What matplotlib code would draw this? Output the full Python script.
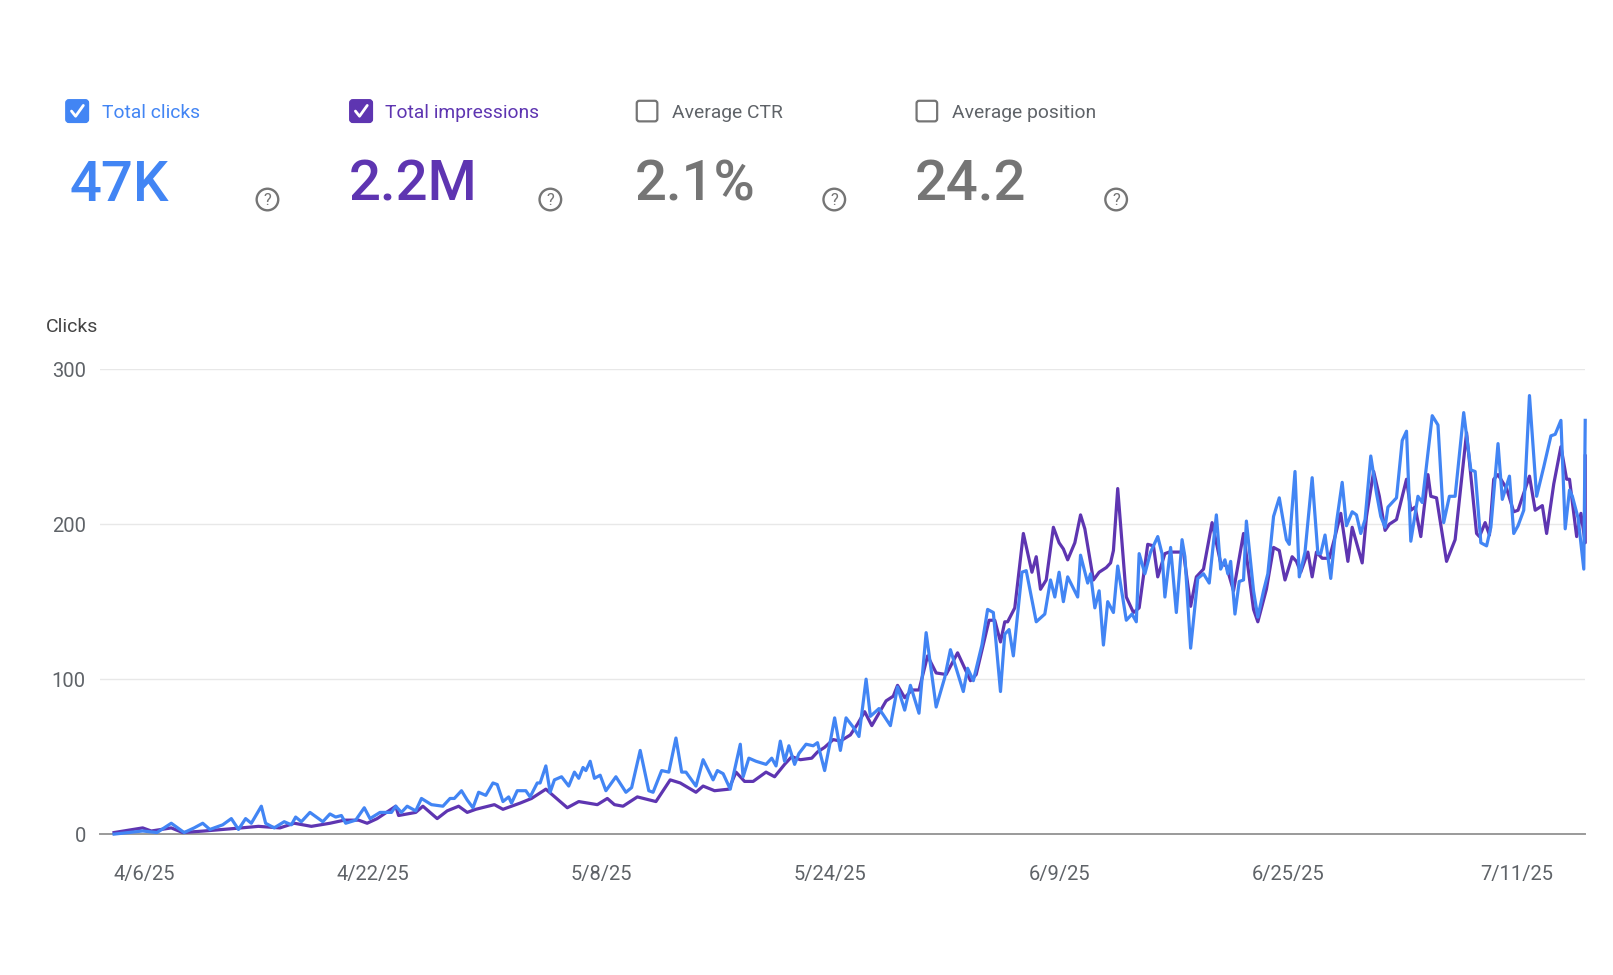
import matplotlib
matplotlib.use("Agg")
import matplotlib.pyplot as plt
import pandas as pd
from matplotlib.patches import FancyBboxPatch, Circle

# ---------------- data ----------------
base_date = "2025-04-06"
tick_labels = ["4/6/25", "4/22/25", "5/8/25", "5/24/25", "6/9/25", "6/25/25", "7/11/25"]
y_ticks = [0, 100, 200, 300]
y_title = "Clicks"

metric_labels = ["Total clicks", "Total impressions", "Average CTR", "Average position"]
metric_values = ["47K", "2.2M", "2.1%", "24.2"]
metric_checked = [True, True, False, False]

# (days after 4/6/25, clicks)
clicks = [
    (-2.1, 0), (-0.1, 2), (0.9, 1), (1.9, 7), (2.8, 1), (3.5, 4), (4.1, 7), (4.6, 3), (5.5, 6), (6.1, 10),
    (6.6, 3), (7.1, 10), (7.5, 7), (8.2, 18), (8.5, 7), (9.1, 4), (9.8, 8), (10.3, 6), (10.6, 11), (11.0, 8),
    (11.6, 14), (12.5, 8), (13.0, 13), (13.4, 11), (13.8, 12), (14.1, 7), (14.8, 9), (15.4, 17), (15.8, 10),
    (16.5, 14), (17.3, 14), (17.6, 18), (18.0, 14), (18.4, 18), (19.0, 15), (19.4, 23), (20.1, 19), (20.9, 18),
    (21.4, 23), (21.7, 23), (22.2, 28), (22.6, 22), (23.0, 17), (23.4, 27), (23.9, 25), (24.4, 33), (24.7, 32),
    (25.1, 21), (25.5, 24), (25.7, 20), (26.1, 28), (26.7, 28), (27.0, 24), (27.5, 33), (27.7, 33), (28.1, 44),
    (28.4, 27), (28.7, 35), (29.2, 37), (29.7, 31), (30.1, 40), (30.4, 36), (30.7, 43), (30.9, 41), (31.2, 47),
    (31.5, 36),
    (31.9, 38), (32.3, 28), (33.0, 37), (33.7, 27), (34.1, 30), (34.7, 54), (35.3, 28), (35.6, 27), (36.2, 41),
    (36.7, 40), (37.2, 62), (37.6, 40), (37.9, 40), (38.6, 31), (39.1, 48), (39.8, 35), (40.1, 41), (40.5, 39),
    (41.0, 29), (41.7, 58), (41.9, 37), (42.3, 49), (42.8, 47), (43.5, 45), (43.9, 49), (44.2, 44), (44.5, 60),
    (44.8, 47), (45.1, 57), (45.5, 45), (45.8, 52), (46.3, 58), (46.8, 57), (47.1, 59), (47.6, 41), (48.0, 60),
    (48.3, 75), (48.7, 54), (49.1, 75), (49.6, 69), (50.0, 63), (50.5, 100), (50.8, 76), (51.4, 81), (51.7, 77),
    (52.2, 70), (52.7, 95), (53.2, 80), (53.6, 96), (54.2, 78), (54.7, 130), (55.4, 82), (56.0, 101), (56.4, 119),
    (57.3, 92), (57.6, 107), (58.0, 99), (58.6, 122), (59.0, 145), (59.4, 143),
    (59.9, 92), (60.2, 129), (60.5, 132), (60.8, 115), (61.4, 169), (61.7, 170), (62.4, 137), (63.0, 142),
    (63.4, 164), (63.7, 153), (64.0, 169), (64.3, 150), (64.6, 166), (65.3, 153), (65.5, 180), (66.0, 162),
    (66.2, 168), (66.5, 146), (66.8, 157), (67.1, 122), (67.4, 150), (67.8, 143), (68.1, 173), (68.7, 138),
    (69.1, 142), (69.4, 137), (69.6, 181), (70.0, 168), (70.4, 182), (70.9, 192), (71.2, 181), (71.4, 153),
    (71.8, 185), (72.2, 143), (72.6, 190), (72.8, 179), (73.2, 120),
    (73.7, 165), (74.1, 168), (74.5, 162), (75.0, 206), (75.3, 171), (75.6, 177), (75.8, 168), (76.0, 176),
    (76.3, 142), (76.6, 163), (76.9, 164), (77.1, 202), (77.6, 157), (77.9, 140), (78.3, 157), (78.6, 168),
    (79.0, 205), (79.4, 217), (79.9, 190), (80.1, 187), (80.5, 234), (80.8, 166), (81.2, 182), (81.7, 230),
    (82.1, 181), (82.3, 181), (82.6, 193), (83.0, 165), (83.4, 201), (83.8, 227), (84.1, 199), (84.5, 208),
    (84.8, 206), (85.1, 194), (85.4, 203), (85.8, 244), (86.2, 220), (86.5, 205), (86.8, 198), (87.0, 211),
    (87.6, 217), (88.0, 254), (88.3, 260), (88.6, 189), (89.1, 218), (89.4, 214), (90.1, 270), (90.5, 264),
    (90.9, 201), (91.3, 218), (91.7, 218), (92.3, 272), (92.8, 235), (93.1, 234), (93.5, 188), (93.9, 186),
    (94.2, 198), (94.7, 252), (95.0, 216), (95.5, 231), (95.8, 194), (96.1, 199), (96.5, 209), (96.9, 283),
    (97.4, 218), (97.9, 237), (98.4, 257), (98.7, 258), (99.1, 267), (99.4, 197), (99.7, 222), (99.9, 218),
    (100.3, 204), (100.7, 171), (100.8, 267),
]

# (days after 4/6/25, impressions on the clicks scale)
impressions = [
    (-2.1, 1), (-0.1, 4), (0.5, 2), (1.9, 4), (2.7, 1), (4.2, 2), (5.5, 3), (6.8, 4), (8.0, 5), (9.5, 4),
    (10.5, 7), (11.7, 5), (13.0, 7), (14.0, 9), (15.0, 9), (15.6, 7), (16.3, 10), (17.6, 18), (17.8, 12),
    (19.0, 14), (19.5, 18), (20.5, 10), (21.2, 15), (22.0, 18), (22.6, 14), (23.2, 16), (24.5, 19), (25.1, 16),
    (26.3, 20), (27.1, 23), (28.1, 29), (28.6, 25), (29.6, 17), (30.4, 21), (31.7, 19),
    (32.4, 23), (32.9, 19), (33.5, 18), (34.5, 24), (35.8, 21), (36.8, 35), (37.5, 33), (38.6, 27), (39.1, 31),
    (39.9, 28), (40.9, 29), (41.4, 40), (42.0, 34), (42.6, 34), (43.5, 40), (44.1, 37), (44.8, 45), (45.3, 50),
    (45.9, 48), (46.7, 49), (47.1, 53), (47.6, 56), (48.2, 61), (48.7, 60), (49.4, 64), (49.9, 71), (50.4, 79),
    (50.9, 70), (51.4, 78), (51.9, 86), (52.4, 89), (52.7, 96), (53.2, 88), (53.7, 93), (54.2, 93), (54.8, 115),
    (55.4, 104), (56.1, 103), (56.9, 117), (57.8, 99), (58.2, 103), (59.1, 138), (59.5, 138),
    (59.9, 124), (60.2, 137), (60.4, 137), (60.9, 146), (61.5, 194), (62.1, 169), (62.4, 179), (62.7, 158),
    (63.1, 164), (63.6, 198), (64.0, 188), (64.3, 184), (64.6, 177), (65.1, 188), (65.5, 206), (65.8, 197),
    (66.4, 164), (66.8, 169), (67.3, 172), (67.6, 175), (67.8, 183), (68.1, 223), (68.7, 153), (69.2, 143),
    (69.6, 146), (70.2, 187), (70.6, 186), (70.9, 166), (71.4, 181), (71.7, 182), (72.2, 182), (72.7, 182),
    (73.2, 147),
    (73.6, 166), (74.1, 171), (74.7, 201), (75.3, 175), (75.7, 173), (76.2, 157), (76.9, 194), (77.6, 145),
    (77.9, 137), (78.5, 158), (79.0, 185), (79.4, 183), (79.8, 164), (80.3, 179), (80.6, 176), (80.9, 169),
    (81.4, 182), (81.7, 166), (82.0, 182), (82.4, 178), (82.9, 178), (83.3, 192), (83.7, 207), (84.2, 176),
    (84.5, 198), (85.2, 175), (85.5, 205), (86.0, 234), (86.4, 218), (86.8, 196), (87.1, 200),
    (87.6, 203), (88.3, 229), (88.6, 209), (88.9, 211), (89.3, 192), (89.8, 232), (90.0, 218), (90.4, 217),
    (91.1, 176), (91.7, 190), (92.5, 259), (93.2, 194), (93.4, 192), (93.8, 201), (94.1, 193), (94.4, 229),
    (94.7, 232), (95.3, 223), (95.8, 208), (96.1, 209), (96.9, 231), (97.3, 209), (97.8, 212), (98.1, 194),
    (98.6, 226), (99.1, 250), (99.5, 229), (99.7, 229), (100.2, 192), (100.5, 207), (100.8, 188), (100.8, 244),
]

# ---------------- styling ----------------
BLUE = "#4285F4"
PURPLE = "#5E35B1"
GRAY = "#757575"
TICK_GRAY = "#5f6368"

plt.rcParams["font.family"] = ["Roboto", "DejaVu Sans"]

W, H = 1568.0, 948.0  # layout frame
fig = plt.figure(figsize=(16.13, 9.75), dpi=100)
fig.patch.set_facecolor("white")

ax = fig.add_axes([97 / W, 1 - 811 / H, (1541 - 97) / W, (811 - 359) / H])
ax.set_facecolor("white")

base = pd.Timestamp(base_date)
tick_days = [(pd.to_datetime(t, format="%m/%d/%y") - base).days for t in tick_labels]

cx, cy = zip(*clicks)
ix, iy = zip(*impressions)
ax.plot(ix, iy, color=PURPLE, lw=2.3, solid_joinstyle="round", zorder=3, clip_on=False)
ax.plot(cx, cy, color=BLUE, lw=2.3, solid_joinstyle="round", zorder=4, clip_on=False)

ax.set_xlim(-3.1, 100.8)
ax.set_ylim(0, 300)
ax.set_xticks(tick_days)
ax.set_xticklabels(tick_labels)
ax.set_yticks(y_ticks)
ax.set_yticklabels([str(v) for v in y_ticks])
ax.tick_params(axis="both", length=0, colors=TICK_GRAY, labelsize=14.5)
ax.tick_params(axis="x", pad=22)
ax.tick_params(axis="y", pad=10)
ax.grid(axis="y", color="#e8e8e8", lw=1.0, zorder=0)
ax.set_axisbelow(True)
for s in ["top", "right", "left"]:
    ax.spines[s].set_visible(False)
ax.spines["bottom"].set_color("#9a9a9a")
ax.spines["bottom"].set_linewidth(1.4)
ax.spines["bottom"].set_zorder(2)

# ---------------- header overlay ----------------
oax = fig.add_axes([0, 0, 1, 1], facecolor="none")
oax.set_xlim(0, W)
oax.set_ylim(H, 0)
oax.axis("off")

oax.text(45, 318, y_title, fontsize=14, color="#444444", ha="left", va="center")

box_x = [64, 340, 618, 890]
label_x = [99, 374, 653, 925]
value_x = [68, 339, 617, 889]
help_x = [260, 535, 811, 1085]
fill_cols = [BLUE, PURPLE, None, None]
label_cols = [BLUE, PURPLE, TICK_GRAY, TICK_GRAY]
value_cols = [BLUE, PURPLE, GRAY, GRAY]

for i in range(4):
    bx = box_x[i]
    if metric_checked[i]:
        p = FancyBboxPatch((bx, 97), 22, 22, boxstyle="round,pad=0,rounding_size=3",
                           facecolor=fill_cols[i], edgecolor=fill_cols[i], lw=1.0)
        oax.add_patch(p)
        oax.plot([bx + 5.5, bx + 9.5, bx + 17], [108, 113, 102.5], color="white", lw=2.0,
                 solid_capstyle="round", solid_joinstyle="round")
    else:
        p = FancyBboxPatch((bx + 1, 98), 20, 20, boxstyle="round,pad=0,rounding_size=2.5",
                           facecolor="white", edgecolor=GRAY, lw=1.6)
        oax.add_patch(p)
    oax.text(label_x[i], 115, metric_labels[i], fontsize=13.9, color=label_cols[i],
             ha="left", va="baseline")
    oax.text(value_x[i], 195, metric_values[i], fontsize=40.5, fontweight="medium",
             color=value_cols[i], ha="left", va="baseline")
    oax.add_patch(Circle((help_x[i], 194), 10.5, fill=False, edgecolor=GRAY, lw=1.7))
    oax.text(help_x[i], 194.5, "?", fontsize=12, color=GRAY, ha="center", va="center")

fig.savefig("out.png", dpi=100, facecolor="white")
